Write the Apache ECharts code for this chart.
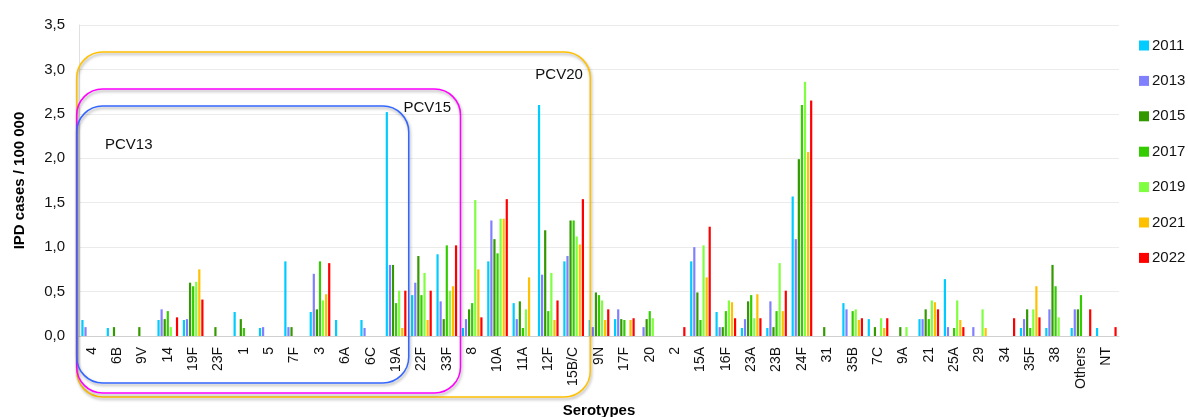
<!DOCTYPE html>
<html>
<head>
<meta charset="utf-8">
<script src="https://cdn.jsdelivr.net/npm/echarts@6/dist/echarts.min.js"></script>
<style>
html,body{margin:0;padding:0;background:#fff;}
#chart{width:1188px;height:417px;}
</style>
</head>
<body>
<div id="chart"></div>
<script>
const categories = ['4','6B','9V','14','19F','23F','1','5','7F','3','6A','6C','19A','22F','33F','8','10A','11A','12F','15B/C','9N','17F','20','2','15A','16F','23A','23B','24F','31','35B','7C','9A','21','25A','29','34','35F','38','Others','NT'];

const y2011 = [0.18,0.09,0,0.18,0.18,0,0.27,0.09,0.84,0.27,0.18,0.18,2.52,0.46,0.92,0.09,0.84,0.37,2.60,0.84,0.18,0.19,0,0,0.84,0.27,0.09,0.09,1.57,0,0.37,0.19,0,0.19,0.64,0,0,0.09,0.09,0.09,0.09];
const y2013 = [0.10,0,0,0.30,0.19,0,0,0.10,0.10,0.70,0,0.09,0.80,0.60,0.39,0.19,1.30,0.19,0.69,0.90,0.10,0.30,0.10,0,1.00,0.10,0.19,0.39,1.09,0,0.30,0,0,0.19,0.10,0.10,0,0.19,0.30,0.30,0];
const y2015 = [0,0.10,0.10,0.19,0.60,0.10,0.19,0,0.10,0.30,0,0,0.80,0.90,0.19,0.30,1.09,0.39,1.19,1.30,0.49,0.19,0.19,0,0.49,0.10,0.39,0.10,1.99,0.10,0,0.10,0.10,0.30,0,0,0,0.30,0.80,0.30,0];
const y2017 = [0,0,0,0.28,0.56,0,0.09,0,0,0.84,0,0,0.37,0.46,1.02,0.37,0.93,0.09,0.28,1.30,0.46,0.18,0.28,0,0.18,0.28,0.46,0.28,2.60,0,0.28,0,0,0.19,0.09,0,0,0.09,0.56,0.46,0];
const y2019 = [0,0,0,0.10,0.61,0,0,0,0,0.40,0,0,0.51,0.71,0.51,1.53,1.32,0.30,0.71,1.12,0.40,0,0.20,0,1.02,0.40,0.20,0.82,2.86,0,0.30,0.20,0.10,0.40,0.40,0.30,0,0.30,0.21,0,0];
const y2021 = [0,0,0,0,0.75,0,0,0,0,0.47,0,0,0.09,0.18,0.56,0.75,1.32,0.66,0.18,1.03,0.18,0.18,0,0,0.66,0.38,0.47,0.28,2.07,0,0.18,0.09,0,0.38,0.18,0.09,0,0.56,0,0,0];
const y2022 = [0,0,0,0.21,0.41,0,0,0,0,0.82,0,0,0.51,0.51,1.02,0.21,1.54,0,0.40,1.54,0.30,0.20,0,0.10,1.23,0.20,0.20,0.51,2.65,0,0.20,0.20,0,0.30,0.10,0,0.20,0.21,0,0.30,0.10];

const seriesNames = ['2011','2013','2015','2017','2019','2021','2022'];
const seriesData = [y2011,y2013,y2015,y2017,y2019,y2021,y2022];
const colors = ['#00CCFF','#8080FF','#339900','#33CC00','#80FF40','#FFC000','#FF0000'];

const yTicks = {min:0, max:3.5, interval:0.5};

const FONT = 'Liberation Sans, Arial, sans-serif';

const chart = echarts.init(document.getElementById('chart'), null, {renderer:'canvas'});

const option = {
  animation:false,
  color: colors,
  textStyle:{fontFamily:FONT},
  grid:{left:79, right:69, top:25, bottom:81, containLabel:false, outerBoundsMode:'none'},
  legend:{
    orient:'vertical', left:1134, top:32,
    itemWidth:10, itemHeight:10, itemGap:18.4,
    icon:'rect',
    textStyle:{fontSize:15, color:'#111', fontFamily:FONT, padding:[0,0,0,-2], lineHeight:17},
    data: seriesNames
  },
  xAxis:{
    type:'category', data:categories,
    name:'Serotypes', nameLocation:'middle', nameGap:67,
    nameTextStyle:{fontSize:15, fontWeight:'bold', color:'#000', fontFamily:FONT},
    axisTick:{show:false},
    axisLine:{lineStyle:{color:'#d0d0d0', width:1}},
    axisLabel:{rotate:90, interval:0, fontSize:14, color:'#111', margin:11, fontFamily:FONT}
  },
  yAxis:{
    type:'value', min:yTicks.min, max:yTicks.max, interval:yTicks.interval,
    name:'IPD cases / 100 000', nameLocation:'middle', nameGap:52,
    nameTextStyle:{fontSize:15, fontWeight:'bold', color:'#000', fontFamily:FONT},
    axisLine:{show:true, lineStyle:{color:'#e0e0e0'}},
    axisTick:{show:false},
    splitLine:{lineStyle:{color:'#ebebeb', width:1}},
    axisLabel:{fontSize:15, color:'#111', margin:14, fontFamily:FONT,
      formatter:function(v){return v.toFixed(1).replace('.', ',');}}
  },
  series: seriesNames.map(function(n,i){
    return {name:n, type:'bar', data:seriesData[i], barWidth:2.2, barGap:'40%',
      itemStyle:{color:colors[i]}};
  })
};
chart.setOption(option);

// annotation boxes for vaccine coverage
function catEdge(idx){
  const c0 = chart.convertToPixel({xAxisIndex:0}, categories[0]);
  const c1 = chart.convertToPixel({xAxisIndex:0}, categories[1]);
  const w = c1 - c0;
  return chart.convertToPixel({xAxisIndex:0}, categories[idx]) + w/2;
}
const left = chart.convertToPixel({xAxisIndex:0}, categories[0]) - 15;
const boxes = [
  {label:'PCV20', lastIdx:19, top:52, bottom:397, color:'#FFC000', extra:4, lx:-55, ly:67},
  {label:'PCV15', lastIdx:14, top:89, bottom:393, color:'#FF00FF', extra:1, lx:-57, ly:100},
  {label:'PCV13', lastIdx:12, top:106, bottom:383, color:'#3366FF', extra:0, lx:null, ly:137}
];
const graphics = [];
boxes.forEach(function(b){
  const right = catEdge(b.lastIdx) + b.extra;
  graphics.push({
    type:'rect', z:100, silent:true,
    shape:{x:left, y:b.top, width:right-left, height:b.bottom-b.top, r:26},
    style:{fill:'none', stroke:b.color, lineWidth:1.5,
      shadowColor:'rgba(0,0,0,0.35)', shadowBlur:3, shadowOffsetX:1, shadowOffsetY:2}
  });
  graphics.push({
    type:'text', z:101, silent:true,
    left: b.lx === null ? 105 : right + b.lx,
    top: b.ly,
    style:{text:b.label, fontSize:15, fill:'#111', fontFamily:FONT}
  });
});
chart.setOption({graphic:graphics});
</script>
</body>
</html>
